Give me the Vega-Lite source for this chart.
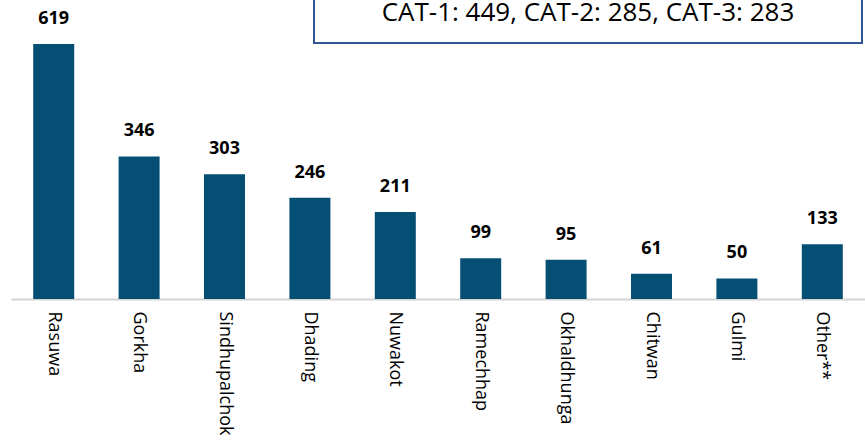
{
  "$schema": "https://vega.github.io/schema/vega-lite/v6.json",
  "width": 854,
  "height": 299,
  "autosize": {"type": "none"},
  "padding": {"left": 11, "top": 0, "right": 0, "bottom": 143},
  "background": "white",
  "config": {"view": {"stroke": null}, "font": "Open Sans"},
  "datasets": {
    "bars": [
      {"district": "Rasuwa", "count": 619},
      {"district": "Gorkha", "count": 346},
      {"district": "Sindhupalchok", "count": 303},
      {"district": "Dhading", "count": 246},
      {"district": "Nuwakot", "count": 211},
      {"district": "Ramechhap", "count": 99},
      {"district": "Okhaldhunga", "count": 95},
      {"district": "Chitwan", "count": 61},
      {"district": "Gulmi", "count": 50},
      {"district": "Other**", "count": 133}
    ],
    "note": [
      {"x": 0.3548, "x2": 0.9965, "y": 621.5, "y2": 800, "xm": 0.6756, "ym": 674, "label": "CAT-1: 449, CAT-2: 285, CAT-3: 283"}
    ]
  },
  "layer": [
    {
      "data": {"name": "bars"},
      "layer": [
        {
          "mark": {"type": "bar", "color": "#054e74"},
          "encoding": {
            "x": {
              "field": "district", "type": "nominal", "sort": null,
              "scale": {"paddingInner": 0.52, "paddingOuter": 0.26},
              "axis": {
                "title": null, "labelAngle": 90, "labelAlign": "left", "labelBaseline": "middle",
                "labelPadding": 12, "ticks": false, "domainColor": "#d4d4d4", "domainWidth": 2,
                "labelFontSize": 18, "labelColor": "#000000", "labelFont": "Open Sans"
              }
            },
            "y": {"field": "count", "type": "quantitative", "scale": {"domain": [0, 725.8], "nice": false}, "axis": null}
          }
        },
        {
          "mark": {"type": "text", "fontWeight": "bold", "fontSize": 18, "dy": -20, "baseline": "alphabetic", "color": "#000000", "font": "Open Sans"},
          "encoding": {
            "x": {"field": "district", "type": "nominal", "sort": null},
            "y": {"field": "count", "type": "quantitative"},
            "text": {"field": "count", "type": "quantitative"}
          }
        }
      ]
    },
    {
      "data": {"name": "note"},
      "layer": [
        {
          "mark": {"type": "rect", "fill": "white", "stroke": "#2f5597", "strokeWidth": 2, "clip": true},
          "encoding": {
            "x": {"field": "x", "type": "quantitative", "scale": {"domain": [0, 1], "nice": false, "zero": false}, "axis": null},
            "x2": {"field": "x2"},
            "y": {"field": "y", "type": "quantitative"},
            "y2": {"field": "y2"}
          }
        },
        {
          "mark": {"type": "text", "fontSize": 26, "baseline": "alphabetic", "align": "center", "color": "#000000", "font": "Open Sans"},
          "encoding": {
            "x": {"field": "xm", "type": "quantitative", "scale": {"domain": [0, 1], "nice": false, "zero": false}, "axis": null},
            "y": {"field": "ym", "type": "quantitative"},
            "text": {"field": "label"}
          }
        }
      ]
    }
  ],
  "resolve": {"scale": {"x": "independent"}, "axis": {"x": "independent"}}
}
